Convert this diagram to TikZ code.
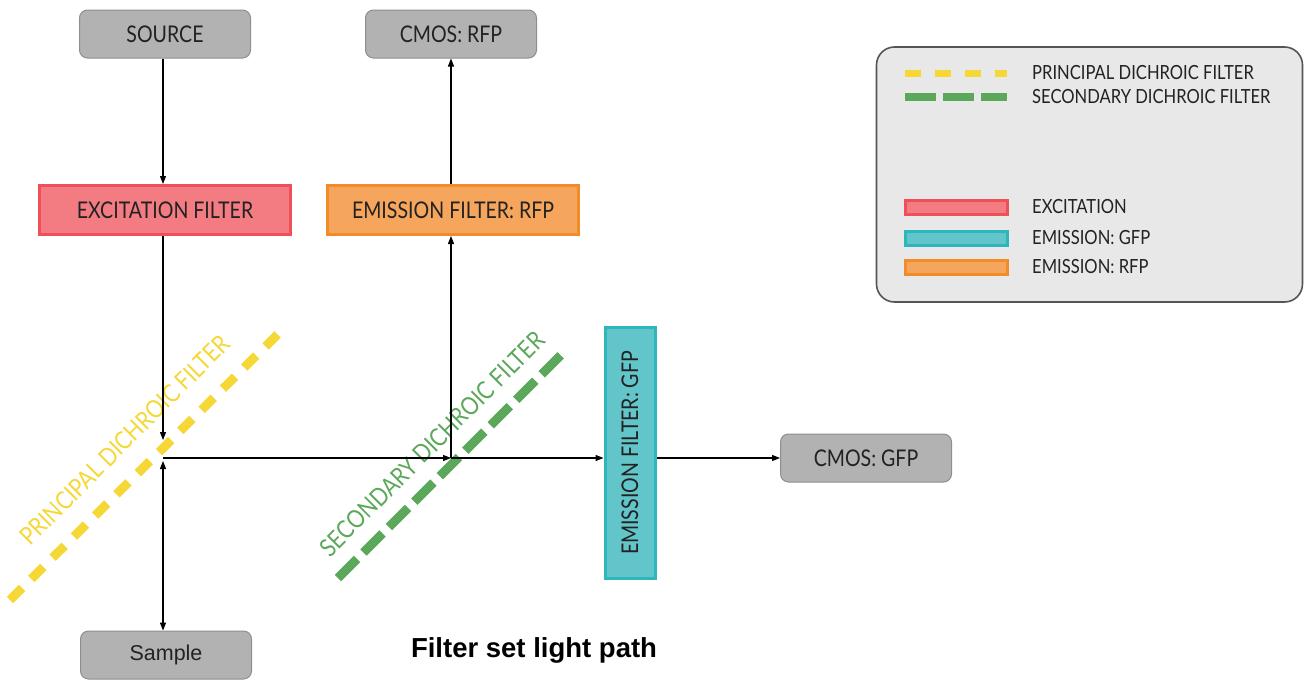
\documentclass[tikz,border=0pt]{standalone}
\usepackage{fontspec}
\setmainfont{Lato}
\newfontfamily\lato[FakeStretch=0.85]{Lato}
\newfontfamily\arialf{Liberation Sans}
\usetikzlibrary{arrows.meta}
\definecolor{boxgray}{HTML}{B2B2B2}
\definecolor{boxgrayd}{HTML}{8E8E8E}
\definecolor{excf}{HTML}{F27C81}
\definecolor{excd}{HTML}{EE4F58}
\definecolor{rfpf}{HTML}{F5A65C}
\definecolor{rfpd}{HTML}{F28C28}
\definecolor{gfpf}{HTML}{62C5C9}
\definecolor{gfpd}{HTML}{2DB7BD}
\definecolor{yel}{HTML}{F5D736}
\definecolor{grn}{HTML}{5CA85A}
\definecolor{legf}{HTML}{E8E8E8}
\definecolor{legd}{HTML}{555555}
\definecolor{txt}{HTML}{222222}
\begin{document}
\begin{tikzpicture}[x=1pt,y=-1pt,
  gbox/.style={draw=boxgrayd, fill=boxgray, rounded corners=8pt, line width=1pt,
    minimum width=171pt, minimum height=48pt, inner sep=0pt, text=txt, font=\lato\fontsize{23}{25}\selectfont},
  fbox/.style={line width=3pt, minimum width=251pt, minimum height=49pt, inner sep=0pt,
    text=txt, font=\lato\fontsize{23}{25}\selectfont},
  conn/.style={line width=1.1pt, -{Triangle[length=8pt,width=6pt]}},
  ydash/.style={yel, line width=9pt, dash pattern=on 17pt off 13pt},
  gdash/.style={grn, line width=9pt, dash pattern=on 27pt off 9pt},
  diagtxt/.style={rotate=45, inner sep=0pt, font=\lato\fontsize{25}{27}\selectfont},
  legtxt/.style={anchor=west, text=txt, inner sep=0pt, font=\lato\fontsize{19.5}{21}\selectfont},
  legbar/.style={line width=3pt, minimum width=102pt, minimum height=14pt, inner sep=0pt}
]
\useasboundingbox (0,0) rectangle (1304,680);

% grey boxes
\node[gbox] (src) at (165,34) {SOURCE};
\node[gbox] (cmosr) at (451,34) {CMOS: RFP};
\node[gbox] (cmosg) at (866,458) {CMOS: GFP};
\node[gbox, font=\arialf\fontsize{21.5}{23}\selectfont] (smp) at (166,655) {Sample};

% filters
\node[fbox, draw=excd, fill=excf] (exc) at (165,210) {EXCITATION FILTER};
\node[fbox, draw=rfpd, fill=rfpf] (emr) at (453,210) {EMISSION FILTER: RFP};
\node[fbox, draw=gfpd, fill=gfpf, minimum width=50pt, minimum height=251pt] (emg) at (630,453) {};
\node[rotate=90, text=txt, inner sep=0pt, font=\lato\fontsize{23}{25}\selectfont] (emgt) at (emg.center) {EMISSION FILTER: GFP};

% dichroic filters
\coordinate (ya) at (10,600);
\coordinate (yb) at (278,334);
\draw[ydash] (ya) -- (yb);
\node[diagtxt, text=yel] (ytxt) at (125,440) {PRINCIPAL DICHROIC FILTER};
\coordinate (ga) at (338,578);
\coordinate (gb) at (566,350);
\draw[gdash] (ga) -- (gb);
\node[diagtxt, text=grn] (gtxt) at (432,444) {SECONDARY DICHROIC FILTER};

% junctions
\coordinate (j1) at (163,458);
\coordinate (j1d) at (163,440);
\coordinate (j1u) at (163,461);
\coordinate (j2) at (451,458);

% connectors
\draw[conn] (src.south -| j1) -- (exc.north -| j1);
\draw[conn] (exc.south -| j1) -- (j1d);
\draw[conn] (j1) -- (j2);
\draw[conn] (j2) -- (emr.south -| j2);
\draw[conn] (emr.north -| j2) -- (cmosr.south -| j2);
\draw[conn] (j2) -- (emg.west |- j2);
\draw[conn] (emg.east |- j2) -- (cmosg.west);
\draw[line width=1.1pt, {Triangle[length=8pt,width=6pt]}-{Triangle[length=8pt,width=6pt]}] (j1u) -- (smp.north -| j1);

% title
\node[text=black, font=\arialf\bfseries\fontsize{27.5}{29}\selectfont] (title) at (534,650) {Filter set light path};

% legend
\node[draw=legd, fill=legf, line width=1.6pt, rounded corners=18pt, minimum width=426pt, minimum height=255pt] (leg) at (1089.5,174.5) {};
\coordinate (l1a) at (905,73);
\coordinate (l1b) at (1007,73);
\draw[yel, line width=7pt, dash pattern=on 16pt off 14pt] (l1a) -- (l1b);
\coordinate (l2a) at (905,97);
\coordinate (l2b) at (1007,97);
\draw[grn, line width=8pt, dash pattern=on 31pt off 7pt] (l2a) -- (l2b);
\node[legtxt] (lt1) at (1032,73) {PRINCIPAL DICHROIC FILTER};
\node[legtxt] (lt2) at (1032,97) {SECONDARY DICHROIC FILTER};
\node[legbar, draw=excd, fill=excf] (lb1) at (956,207) {};
\node[legbar, draw=gfpd, fill=gfpf] (lb2) at (956,238) {};
\node[legbar, draw=rfpd, fill=rfpf] (lb3) at (956,267) {};
\node[legtxt] (lt3) at (1032,207) {EXCITATION};
\node[legtxt] (lt4) at (1032,238) {EMISSION: GFP};
\node[legtxt] (lt5) at (1032,267) {EMISSION: RFP};
\end{tikzpicture}
\end{document}
